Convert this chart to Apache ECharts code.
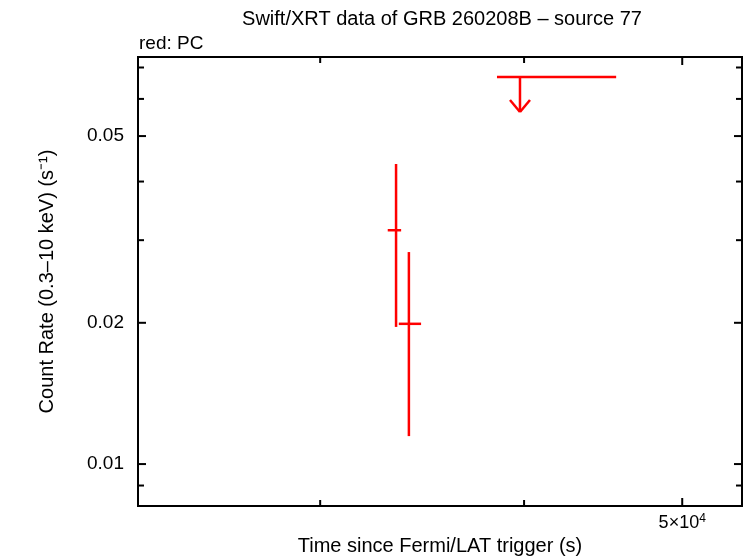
<!DOCTYPE html>
<html>
<head>
<meta charset="utf-8">
<script src="https://cdn.jsdelivr.net/npm/echarts@6/dist/echarts.min.js"></script>
<style>html,body{margin:0;padding:0;background:#fff;}#chart{width:746px;height:558px;}</style>
</head>
<body>
<div id="chart"></div>
<script>
// ---- data ----
// PC detections: [time, rate, timeLow, timeHigh, rateLow, rateHigh]
const pcTime      = [33390, 34000];
const pcTimeLow   = [33000, 33520];
const pcTimeHigh  = [33630, 34590];
const pcRate      = [0.0315, 0.0199];
const pcRateLow   = [0.0196, 0.01147];
const pcRateHigh  = [0.0436, 0.0283];
// PC upper limit
const ulTime     = [39770];
const ulTimeLow  = [38500];
const ulTimeHigh = [45550];
const ulRate     = [0.0668];
// axis ticks
const xTickValues = [30000, 40000, 50000];
const xTickLabels = ['', '', '5×10{s|4}'];
const yTickValues = [0.009, 0.01, 0.02, 0.03, 0.04, 0.05, 0.06, 0.07];
const yTickLabels = ['', '0.01', '0.02', '', '', '0.05', '', ''];
const xRange = [23200, 54400];
const yRange = [0.00814, 0.0737];

const FONT = '"Liberation Sans", Arial, Helvetica, sans-serif';
const chart = echarts.init(document.getElementById('chart'));

const pcData = pcTime.map((t, i) => [t, pcRate[i], pcTimeLow[i], pcTimeHigh[i], pcRateLow[i], pcRateHigh[i]]);
const ulData = ulTime.map((t, i) => [t, ulRate[i], ulTimeLow[i], ulTimeHigh[i]]);
const xTickData = xTickValues.map((v, i) => [v, yRange[0], i]);
const yTickData = yTickValues.map((v, i) => [xRange[0], v, i]);

const red = '#ff0000';
const LW = 2.5;
function line(x1, y1, x2, y2, color, w) {
  return { type: 'line', shape: { x1, y1, x2, y2 }, style: { stroke: color, lineWidth: w } };
}

chart.setOption({
  animation: false,
  backgroundColor: '#ffffff',
  title: [
    { text: 'Swift/XRT data of GRB 260208B – source 77', left: 437, top: 4, textAlign: 'center',
      textStyle: { fontFamily: FONT, fontSize: 20, fontWeight: 'normal', color: '#000' } },
    { text: 'red: PC', left: 134, top: 29,
      textStyle: { fontFamily: FONT, fontSize: 19, fontWeight: 'normal', color: '#000' } }
  ],
  grid: { left: 138, right: 4, top: 57, bottom: 52, outerBoundsMode: 'none', containLabel: false,
          show: true, borderColor: '#000', borderWidth: 2, backgroundColor: 'transparent' },
  xAxis: {
    type: 'log', logBase: 10, min: xRange[0], max: xRange[1],
    name: 'Time since Fermi/LAT trigger (s)', nameLocation: 'middle', nameGap: 30,
    nameTextStyle: { fontFamily: FONT, fontSize: 20, color: '#000' },
    axisLine: { show: false }, axisTick: { show: false }, axisLabel: { show: false }, splitLine: { show: false }
  },
  yAxis: {
    type: 'log', logBase: 10, min: yRange[0], max: yRange[1],
    name: 'Count Rate (0.3–10 keV) (s⁻¹)', nameLocation: 'middle', nameGap: 81, nameRotate: 90,
    nameTextStyle: { fontFamily: FONT, fontSize: 20, color: '#000' },
    axisLine: { show: false }, axisTick: { show: false }, axisLabel: { show: false }, splitLine: { show: false }
  },
  series: [
    {
      type: 'custom', name: 'xticks', data: xTickData, encode: { x: 0, y: 1 }, silent: true, clip: false, z: 5,
      renderItem: function (params, api) {
        const cs = params.coordSys;
        const p = api.coord([api.value(0), api.value(1)]);
        const idx = api.value(2);
        const lab = xTickLabels[idx];
        const len = lab ? 8 : 6;
        const ch = [
          line(p[0], cs.y + cs.height, p[0], cs.y + cs.height - len, '#000', 2),
          line(p[0], cs.y, p[0], cs.y + len, '#000', 2)
        ];
        if (lab) {
          ch.push({ type: 'text', x: p[0], y: cs.y + cs.height + 7,
            style: { text: lab, fontFamily: FONT, fontSize: 18, fill: '#000', align: 'center', verticalAlign: 'top',
              rich: { s: { fontSize: 12, verticalAlign: 'top', fontFamily: FONT, fill: '#000', padding: [0, 0, 8, 0] } } } });
        }
        return { type: 'group', children: ch };
      }
    },
    {
      type: 'custom', name: 'yticks', data: yTickData, encode: { x: 0, y: 1 }, silent: true, clip: false, z: 5,
      renderItem: function (params, api) {
        const cs = params.coordSys;
        const p = api.coord([api.value(0), api.value(1)]);
        const idx = api.value(2);
        const lab = yTickLabels[idx];
        const len = lab ? 8 : 6;
        const ch = [
          line(cs.x, p[1], cs.x + len, p[1], '#000', 2),
          line(cs.x + cs.width, p[1], cs.x + cs.width - len, p[1], '#000', 2)
        ];
        if (lab) {
          ch.push({ type: 'text', x: cs.x - 14, y: p[1],
            style: { text: lab, fontFamily: FONT, fontSize: 19, fill: '#000', align: 'right', verticalAlign: 'middle' } });
        }
        return { type: 'group', children: ch };
      }
    },
    {
      type: 'custom', name: 'PC', data: pcData, encode: { x: 0, y: 1 }, z: 3,
      renderItem: function (params, api) {
        const c = api.coord([api.value(0), api.value(1)]);
        const l = api.coord([api.value(2), api.value(1)]);
        const r = api.coord([api.value(3), api.value(1)]);
        const lo = api.coord([api.value(0), api.value(4)]);
        const hi = api.coord([api.value(0), api.value(5)]);
        return { type: 'group', children: [
          line(l[0], c[1], r[0], c[1], red, LW),
          line(c[0], lo[1], c[0], hi[1], red, LW)
        ] };
      }
    },
    {
      type: 'custom', name: 'PC upper limit', data: ulData, encode: { x: 0, y: 1 }, z: 3,
      renderItem: function (params, api) {
        const c = api.coord([api.value(0), api.value(1)]);
        const l = api.coord([api.value(2), api.value(1)]);
        const r = api.coord([api.value(3), api.value(1)]);
        const tip = c[1] + 35;
        return { type: 'group', children: [
          line(l[0], c[1], r[0], c[1], red, LW),
          line(c[0], c[1], c[0], tip, red, LW),
          line(c[0] - 10, tip - 12, c[0], tip, red, LW),
          line(c[0] + 10, tip - 12, c[0], tip, red, LW)
        ] };
      }
    }
  ]
});
</script>
</body>
</html>
